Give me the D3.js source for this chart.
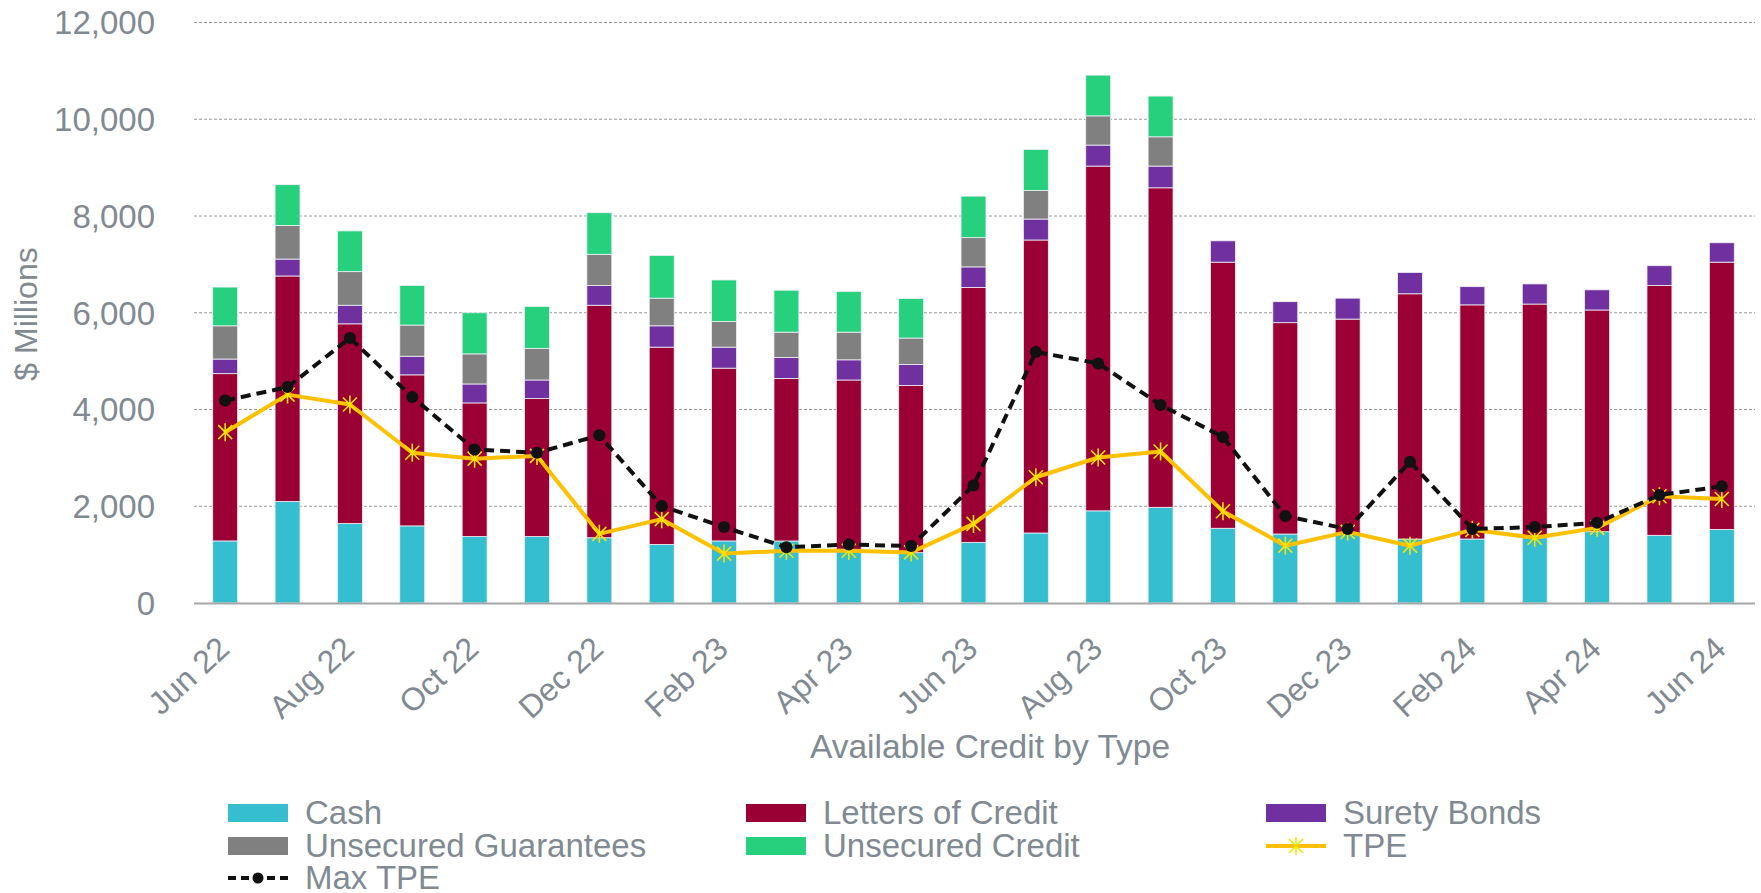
<!DOCTYPE html>
<html>
<head>
<meta charset="utf-8">
<script src="https://cdn.jsdelivr.net/npm/d3@7"></script>
<style>
  body { margin: 0; background: #fff; }
  svg text { font-family: "Liberation Sans", Arial, sans-serif; fill: #808a93; }
</style>
</head>
<body>
<svg id="chart" width="1761" height="893"></svg>
<script>
// months on the x axis, every other one gets a label
var months = ["Jun 22", "Jul 22", "Aug 22", "Sep 22", "Oct 22", "Nov 22", "Dec 22",
    "Jan 23", "Feb 23", "Mar 23", "Apr 23", "May 23", "Jun 23", "Jul 23", "Aug 23",
    "Sep 23", "Oct 23", "Nov 23", "Dec 23", "Jan 24", "Feb 24", "Mar 24", "Apr 24",
    "May 24", "Jun 24"];
var tickLabels = ["Jun 22", "Aug 22", "Oct 22", "Dec 22", "Feb 23", "Apr 23", "Jun 23",
    "Aug 23", "Oct 23", "Dec 23", "Feb 24", "Apr 24", "Jun 24"];
var yTicks = [0, 2000, 4000, 6000, 8000, 10000, 12000];

// $ millions
var cash = [1283, 2100, 1643, 1594, 1373, 1373, 1349, 1210, 1283, 1282, 1110, 1040, 1254,
    1447, 1905, 1978, 1545, 1426, 1440, 1323, 1323, 1350, 1474, 1399, 1520];
var lettersOfCredit = [3458, 4660, 4128, 3122, 2763, 2853, 4806, 4079, 3572, 3361, 3500,
    3456, 5269, 6057, 7127, 6605, 5501, 4369, 4429, 5069, 4840, 4830, 4583, 5165, 5526];
var suretyBonds = [302, 350, 384, 385, 392, 384, 409, 441, 434, 433, 417, 433, 425, 433,
    434, 449, 441, 434, 433, 441, 376, 416, 417, 408, 401];
var unsecuredGuarantees = [687, 695, 695, 645, 622, 654, 645, 572, 531, 523, 572, 548, 605,
    588, 604, 605, 0, 0, 0, 0, 0, 0, 0, 0, 0];
var unsecuredCredit = [801, 842, 842, 818, 850, 866, 859, 883, 858, 867, 842, 817, 858, 851,
    842, 842, 0, 0, 0, 0, 0, 0, 0, 0, 0];
var tpe = [3531, 4308, 4103, 3106, 2984, 3041, 1430, 1733, 1022, 1079, 1079, 1046, 1635, 2599,
    3008, 3131, 1896, 1185, 1471, 1185, 1512, 1349, 1553, 2207, 2150];
var maxTpe = [4185, 4463, 5477, 4259, 3172, 3106, 3466, 2003, 1569, 1153, 1210, 1177, 2428,
    5190, 4953, 4095, 3433, 1798, 1529, 2918, 1529, 1569, 1659, 2232, 2411];

var seriesNames = ["Cash", "Letters of Credit", "Surety Bonds", "Unsecured Guarantees", "Unsecured Credit"];
var seriesColors = ["#34bed0", "#9a0033", "#7030a0", "#808080", "#26d07c"];

var svg = d3.select("#chart");

var x = d3.scaleBand().domain(months).range([194, 1753]).paddingInner(0.6).paddingOuter(0.3);
var y = d3.scaleLinear().domain([0, 12000]).range([603, 22.5]);

// gridlines
svg.append("g").selectAll("line").data(yTicks.slice(1)).join("line")
    .attr("x1", 194).attr("x2", 1755)
    .attr("y1", d => y(d)).attr("y2", d => y(d))
    .attr("stroke", "#9a9a9a").attr("stroke-width", 1).attr("stroke-dasharray", "3,2");

// y axis labels
svg.append("g").selectAll("text").data(yTicks).join("text")
    .attr("x", 155).attr("y", d => y(d)).attr("dy", "0.36em")
    .attr("text-anchor", "end").style("font-size", "33px")
    .text(d => d3.format(",")(d));

svg.append("text")
    .attr("transform", "translate(37,314) rotate(-90)")
    .attr("text-anchor", "middle").style("font-size", "32px")
    .text("$ Millions");

// stacked bars
var table = months.map((m, i) => ({
    month: m,
    "Cash": cash[i],
    "Letters of Credit": lettersOfCredit[i],
    "Surety Bonds": suretyBonds[i],
    "Unsecured Guarantees": unsecuredGuarantees[i],
    "Unsecured Credit": unsecuredCredit[i]
}));
var stacked = d3.stack().keys(seriesNames)(table);

svg.append("g").selectAll("g").data(stacked).join("g")
    .attr("fill", (d, i) => seriesColors[i])
    .selectAll("rect").data(d => d.filter(s => s[1] > s[0])).join("rect")
    .attr("x", d => x(d.data.month))
    .attr("width", x.bandwidth())
    .attr("y", d => y(d[1]))
    .attr("height", d => y(d[0]) - y(d[1]))
    .attr("stroke", "#eef0f6").attr("stroke-width", 0.8);

// x axis baseline
svg.append("line").attr("x1", 194).attr("x2", 1755).attr("y1", 603.5).attr("y2", 603.5)
    .attr("stroke", "#a6a6a6").attr("stroke-width", 2);

// x labels
svg.append("g").selectAll("text").data(tickLabels).join("text")
    .attr("transform", d => "translate(" + (x(d) + x.bandwidth() / 2 + 6) + ",651) rotate(-43)")
    .attr("text-anchor", "end").style("font-size", "32px")
    .text(d => d);

svg.append("text").attr("x", 990).attr("y", 758).attr("text-anchor", "middle")
    .style("font-size", "33.5px").text("Available Credit by Type");

// lines
var cx = (d, i) => x(months[i]) + x.bandwidth() / 2;
var line = d3.line().x(cx).y(d => y(d));

svg.append("path").datum(tpe).attr("d", line)
    .attr("fill", "none").attr("stroke", "#ffc000").attr("stroke-width", 4).attr("stroke-linejoin", "round");

var star = "M0,-9L0,9M-7,-7L7,7M-7,7L7,-7";
svg.append("g").selectAll("path").data(tpe).join("path")
    .attr("transform", (d, i) => "translate(" + cx(d, i) + "," + y(d) + ")")
    .attr("d", star).attr("fill", "none").attr("stroke", "#f5e600").attr("stroke-width", 1.6);

svg.append("path").datum(maxTpe).attr("d", line)
    .attr("fill", "none").attr("stroke", "#111").attr("stroke-width", 4).attr("stroke-dasharray", "10,6");

svg.append("g").selectAll("circle").data(maxTpe).join("circle")
    .attr("cx", cx).attr("cy", d => y(d)).attr("r", 6).attr("fill", "#111");

// legend
var legendItems = [
    { name: "Cash", type: "rect", color: seriesColors[0], col: 0, row: 0 },
    { name: "Letters of Credit", type: "rect", color: seriesColors[1], col: 1, row: 0 },
    { name: "Surety Bonds", type: "rect", color: seriesColors[2], col: 2, row: 0 },
    { name: "Unsecured Guarantees", type: "rect", color: seriesColors[3], col: 0, row: 1 },
    { name: "Unsecured Credit", type: "rect", color: seriesColors[4], col: 1, row: 1 },
    { name: "TPE", type: "tpe", col: 2, row: 1 },
    { name: "Max TPE", type: "max", col: 0, row: 2 }
];
var colX = [228, 746, 1266];
var rowY = [813, 846, 878];

var lg = svg.append("g").selectAll("g").data(legendItems).join("g")
    .attr("transform", d => "translate(" + colX[d.col] + "," + rowY[d.row] + ")");

lg.filter(d => d.type === "rect").append("rect")
    .attr("x", 0).attr("y", -9).attr("width", 60).attr("height", 18)
    .attr("fill", d => d.color);

var lt = lg.filter(d => d.type === "tpe");
lt.append("line").attr("x1", 0).attr("x2", 60).attr("stroke", "#ffc000").attr("stroke-width", 4);
lt.append("path").attr("transform", "translate(30,0)").attr("d", star)
    .attr("fill", "none").attr("stroke", "#f5e600").attr("stroke-width", 1.6);

var lm = lg.filter(d => d.type === "max");
lm.append("line").attr("x1", 0).attr("x2", 60).attr("stroke", "#111").attr("stroke-width", 4)
    .attr("stroke-dasharray", "8,5");
lm.append("circle").attr("cx", 30).attr("r", 5.5).attr("fill", "#111");

lg.append("text").attr("x", 77).attr("y", 11).style("font-size", "33px").text(d => d.name);
</script>
</body>
</html>
